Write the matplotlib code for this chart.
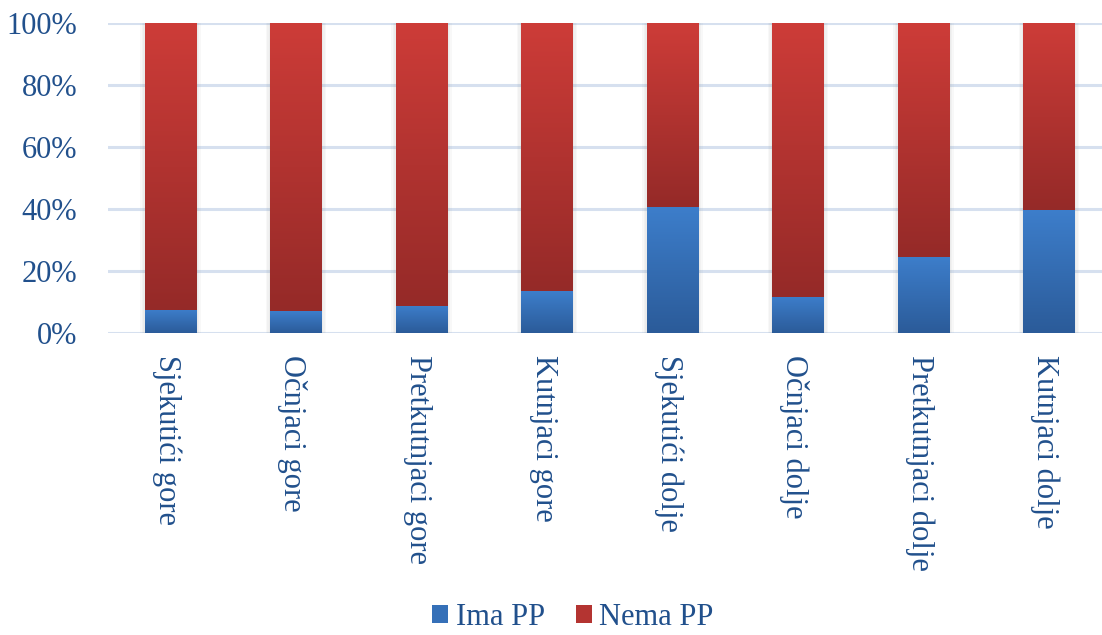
import numpy as np
import matplotlib.pyplot as plt
import matplotlib.transforms as mtrans
from matplotlib.colors import LinearSegmentedColormap
from matplotlib.patches import Patch, Rectangle

kategorije = ['Sjekutići gore', 'Očnjaci gore', 'Pretkutnjaci gore', 'Kutnjaci gore',
              'Sjekutići dolje', 'Očnjaci dolje', 'Pretkutnjaci dolje', 'Kutnjaci dolje']
ima_pp = [7.5, 7.0, 8.8, 13.4, 40.7, 11.7, 24.6, 39.8]
nema_pp = [100 - v for v in ima_pp]

tekst = '#21508C'
plt.rcParams['font.family'] = ['Liberation Serif', 'DejaVu Serif']

plava = LinearSegmentedColormap.from_list('plava', ['#2B5B99', '#3D7ECB'])
crvena = LinearSegmentedColormap.from_list('crvena', ['#952A28', '#CD3C38'])

fig = plt.figure(figsize=(11.02, 6.35), dpi=100)
ax = fig.add_axes([0.098, 0.4756, 0.902, 0.4882])

x = np.arange(len(kategorije))
w = 0.41
grad = np.linspace(0, 1, 256).reshape(-1, 1)

for i in x:
    # sjena
    for k in range(3):
        d = 0.012 * (k + 1)
        ax.add_patch(Rectangle((i - w / 2 - d, -0.6 - d * 8), w + 2 * d, 100.6 + d * 8,
                               facecolor='#7f7f7f', edgecolor='none', alpha=0.05, zorder=1))
    ax.imshow(grad, cmap=plava, origin='lower', aspect='auto', zorder=3,
              extent=[i - w / 2, i + w / 2, 0, ima_pp[i]])
    ax.imshow(grad, cmap=crvena, origin='lower', aspect='auto', zorder=3,
              extent=[i - w / 2, i + w / 2, ima_pp[i], ima_pp[i] + nema_pp[i]])

ax.set_xlim(-0.5, 7.424)
ax.set_ylim(0, 100)
ax.set_yticks(np.arange(0, 101, 20))
ax.set_yticklabels([f'{v}%' for v in range(0, 101, 20)])
ax.set_xticks(x)
ax.set_xticklabels(kategorije, rotation=270, va='top', ha='center')
ax.tick_params(axis='both', length=0, labelsize=22, colors=tekst)
ax.tick_params(axis='x', pad=16)
ax.tick_params(axis='y', pad=22)
pomak = mtrans.ScaledTranslation(-4 / 100, 0, fig.dpi_scale_trans)
for t in ax.get_xticklabels():
    t.set_transform(t.get_transform() + pomak)
ax.yaxis.grid(True, color='#D6E0EF', linewidth=2.2, zorder=0)
ax.set_axisbelow(True)
for s in ax.spines.values():
    s.set_visible(False)

ruke = [Patch(facecolor='#3570B8', label='Ima PP'), Patch(facecolor='#B43431', label='Nema PP')]
fig.legend(handles=ruke, loc='center', bbox_to_anchor=(0.52, 0.028), ncol=2, frameon=False,
           fontsize=22, labelcolor=tekst, handlelength=0.52, handleheight=0.52,
           handletextpad=0.25, columnspacing=1.0)

fig.savefig('out.png', dpi=100)
